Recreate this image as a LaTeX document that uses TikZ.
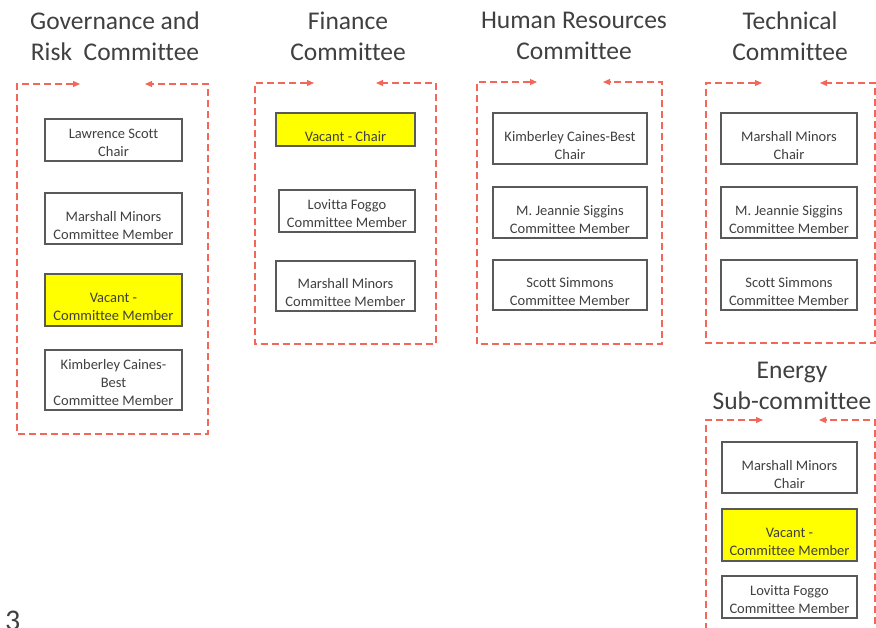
\documentclass[tikz,border=0pt]{standalone}
\usepackage{fontspec}
\setmainfont{Carlito}[Ligatures=NoCommon]
\usepackage{tikz}
\usetikzlibrary{arrows.meta}
\definecolor{framered}{HTML}{F2675A}
\definecolor{textgray}{HTML}{404040}
\definecolor{boxgray}{HTML}{595959}
\definecolor{vacant}{HTML}{FFFF00}
\tikzset{
    member/.style={draw=boxgray, line width=1.2pt, text=textgray, align=center,
        inner sep=0pt, font=\fontsize{14.5}{18}\selectfont},
    title/.style={text=textgray, align=center, inner sep=0pt,
        font=\fontsize{25.5}{31}\selectfont},
    frame/.style={framered, line width=1.2pt, dash pattern=on 7pt off 4pt,
        {Triangle[length=7pt, width=6pt]}-{Triangle[length=7pt, width=6pt]}}
}
\begin{document}
\begin{tikzpicture}[x=1pt, y=-1pt]
    \useasboundingbox (0,0) rectangle (876,628);
    \clip (0,0) rectangle (876,628);

    % committee titles
    \node[title] (govtitle) at (115,36) {Governance and\\Risk\ \ Committee};
    \node[title] (fintitle) at (348,36) {Finance\\Committee};
    \node[title] (hrtitle) at (574,36) {Human Resources\\Committee};
    \node[title] (techtitle) at (790,36) {Technical\\Committee};
    \node[title] (energytitle) at (792,386) {Energy\\Sub-committee};

    % dashed frames
    \foreach \name/\left/\right/\top/\bottom/\tipl/\tipr in {
        gov/17/208/84/434/80/145,
        fin/255/436/83/344/314/376,
        hr/477/662/82/344/537/603,
        tech/706/875/83/343/762/820,
        energy/706/875/420/660/763/819}{

        \coordinate (\name-tl) at (\tipl,\top);
        \coordinate (\name-tr) at (\tipr,\top);
        \draw[frame]
            (\name-tl) -- (\left,\top) -- (\left,\bottom) -- (\right,\bottom)
            -- (\right,\top) -- (\name-tr);
    }

    % member boxes
    \foreach \name/\x/\y/\w/\h/\co/\dy/\txt in {
        gov1/113.5/140/137/42/white/3/{Lawrence Scott\\Chair},
        gov2/113.5/218.5/137/51/white/7/{Marshall Minors\\Committee Member},
        gov3/113.5/300/137/52/vacant/7/{Vacant -\\Committee Member},
        gov4/113.5/380/137/60/white/3/{Kimberley Caines-\\Best\\Committee Member},
        fin1/345.5/129.5/139/33/vacant/7/{Vacant - Chair},
        fin2/347/211/136/42/white/3/{Lovitta Foggo\\Committee Member},
        fin3/345.5/286/139/50/white/7/{Marshall Minors\\Committee Member},
        hr1/570/138.5/154/51/white/7/{Kimberley Caines-Best\\Chair},
        hr2/570/212.5/154/51/white/7/{M. Jeannie Siggins\\Committee Member},
        hr3/570/285/154/50/white/7/{Scott Simmons\\Committee Member},
        tech1/789/138.5/136/51/white/7/{Marshall Minors\\Chair},
        tech2/789/212.5/136/51/white/7/{M. Jeannie Siggins\\Committee Member},
        tech3/789/285/136/50/white/7/{Scott Simmons\\Committee Member},
        energy1/789.5/467.5/135/51/white/7/{Marshall Minors\\Chair},
        energy2/789.5/535/135/52/vacant/7/{Vacant -\\Committee Member},
        energy3/789.5/597/135/42/white/3/{Lovitta Foggo\\Committee Member}}{

        \node[member, fill=\co, minimum width=\w pt, minimum height=\h pt]
            (\name) at (\x,\y) {};
        \node[text=textgray, align=center, inner sep=0pt,
            font=\fontsize{14.5}{18}\selectfont, yshift=-\dy pt]
            (\name-text) at (\name.center) {\txt};
    }

    % page number
    \node[text=textgray, anchor=base west, inner sep=0pt,
        font=\fontsize{30}{36}\selectfont] (pagenum) at (5,630) {3};
\end{tikzpicture}
\end{document}
